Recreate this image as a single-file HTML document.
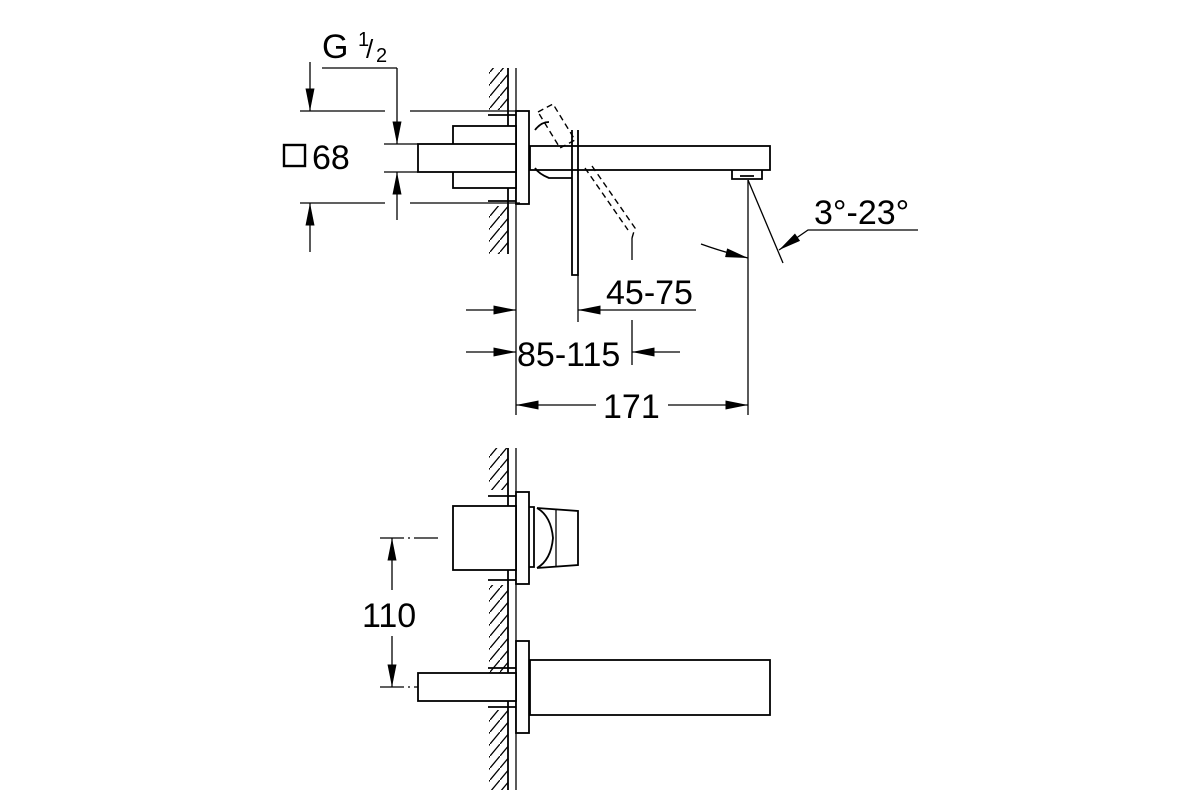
<!DOCTYPE html>
<html><head><meta charset="utf-8"><style>html,body{margin:0;padding:0;background:#fff}svg{display:block}</style></head>
<body>
<svg width="1200" height="800" viewBox="0 0 1200 800" xmlns="http://www.w3.org/2000/svg" font-family="Liberation Sans, sans-serif">
<defs>
<marker id="a" viewBox="0 0 10 4" refX="10" refY="2" markerWidth="24" markerHeight="9" markerUnits="userSpaceOnUse" orient="auto"><path d="M0,0 L10,2 L0,4z" fill="#000"/></marker>
<pattern id="h" width="10" height="12" patternUnits="userSpaceOnUse"><path d="M0,12 L10,0" stroke="#000" stroke-width="1.3"/></pattern>
</defs>
<g stroke="#000" stroke-width="1.8" fill="none">
<rect x="489" y="68" width="19" height="42" fill="url(#h)" stroke="none"/>
<rect x="489" y="206" width="19" height="48" fill="url(#h)" stroke="none"/>
<line x1="508" y1="68" x2="508" y2="254"/>
<line x1="516" y1="68" x2="516" y2="415" stroke-width="1.3"/>
<line x1="488" y1="115" x2="516" y2="115"/>
<line x1="488" y1="201" x2="516" y2="201"/>
<rect x="516" y="111" width="13" height="93" fill="#fff"/>
<rect x="453" y="126" width="63" height="62" fill="#fff"/>
<rect x="418" y="144" width="98" height="28" fill="#fff"/>
<rect x="530" y="146" width="240" height="24"/>
<path d="M732,170 v9 h30 v-9 M740,176 h14"/>
<path d="M572,130 V275 H578 V130" />
<path d="M535,168 q4,6 14,10 h23"/>
<path d="M535,130 q6,-8 14,-8"/>
<g stroke-dasharray="6,4" stroke-width="1.4">
<path d="M538,112 L553,104 L575,140 L560,148z"/>
<path d="M585,168 L628,230 M592,166 L635,228 L632,238"/>
</g>
<line x1="632" y1="238" x2="632" y2="260" stroke-width="1.3"/>
<line x1="632" y1="320" x2="632" y2="365" stroke-width="1.3"/>
<g stroke-width="1.3">
<line x1="300" y1="111" x2="385" y2="111"/><line x1="410" y1="111" x2="520" y2="111"/>
<line x1="300" y1="203" x2="385" y2="203"/><line x1="410" y1="203" x2="520" y2="203"/>
<line x1="384" y1="144" x2="418" y2="144"/><line x1="384" y1="172" x2="418" y2="172"/>
<line x1="322" y1="68" x2="397" y2="68"/>
<line x1="397" y1="68" x2="397" y2="144" marker-end="url(#a)"/>
<line x1="397" y1="220" x2="397" y2="172" marker-end="url(#a)"/>
<line x1="310" y1="62" x2="310" y2="111" marker-end="url(#a)"/>
<line x1="310" y1="252" x2="310" y2="203" marker-end="url(#a)"/>
<line x1="578" y1="275" x2="578" y2="322"/>
<line x1="748" y1="180" x2="748" y2="415"/>
<line x1="466" y1="310" x2="516" y2="310" marker-end="url(#a)"/>
<line x1="696" y1="310" x2="578" y2="310" marker-end="url(#a)"/>
<line x1="466" y1="352" x2="516" y2="352" marker-end="url(#a)"/>
<line x1="680" y1="352" x2="632" y2="352" marker-end="url(#a)"/>
<line x1="596" y1="405" x2="516" y2="405" marker-end="url(#a)"/>
<line x1="668" y1="405" x2="748" y2="405" marker-end="url(#a)"/>
<line x1="748" y1="180" x2="783" y2="263"/>
<path d="M701,244 q22,8 47,14" marker-end="url(#a)"/>
<path d="M918,230 H808 L779,250" marker-end="url(#a)"/>
</g>
<rect x="284" y="145" width="21" height="21" stroke-width="2.4"/>
<rect x="489" y="448" width="19" height="42" fill="url(#h)" stroke="none"/>
<rect x="489" y="585" width="19" height="88" fill="url(#h)" stroke="none"/>
<rect x="489" y="710" width="19" height="80" fill="url(#h)" stroke="none"/>
<line x1="508" y1="448" x2="508" y2="790"/>
<line x1="516" y1="448" x2="516" y2="790" stroke-width="1.3"/>
<line x1="488" y1="496" x2="516" y2="496"/><line x1="488" y1="580" x2="516" y2="580"/>
<line x1="488" y1="668" x2="516" y2="668"/><line x1="488" y1="707" x2="516" y2="707"/>
<rect x="516" y="492" width="13" height="92" fill="#fff"/>
<rect x="453" y="506" width="63" height="64" fill="#fff"/>
<path d="M529,507 h5 v60 h-5"/>
<path d="M537,508 L578,511 L578,565 L537,568"/>
<path d="M537,508 q14,8 16,30 q-2,22 -16,30"/>
<line x1="556" y1="509" x2="556" y2="567" stroke-width="1.3"/>
<rect x="516" y="641" width="13" height="92" fill="#fff"/>
<rect x="530" y="660" width="240" height="55"/>
<rect x="418" y="673" width="98" height="28" fill="#fff"/>
<g stroke-width="1.3">
<line x1="380" y1="538" x2="440" y2="538" stroke-dasharray="24,4,2,4"/>
<line x1="380" y1="687" x2="418" y2="687" stroke-dasharray="24,4,2,4"/>
<line x1="392" y1="590" x2="392" y2="538" marker-end="url(#a)"/>
<line x1="392" y1="636" x2="392" y2="687" marker-end="url(#a)"/>
</g>
</g>
<g font-size="34" fill="#000">
<text x="322" y="58">G</text>
<text x="358" y="46" font-size="20">1</text>
<text x="366" y="58" font-size="26">/</text>
<text x="376" y="62" font-size="20">2</text>
<text x="312" y="169">68</text>
<text x="606" y="304">45-75</text>
<text x="517" y="366">85-115</text>
<text x="603" y="418">171</text>
<text x="814" y="224">3°-23°</text>
<text x="362" y="627">110</text>
</g>
</svg>
</body></html>
